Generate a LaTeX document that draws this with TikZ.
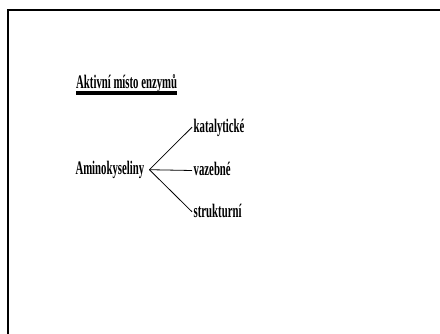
\documentclass[tikz,border=0pt]{standalone}
\usepackage{fontspec}
\setmainfont{Liberation Serif}[FakeStretch=0.56]
\usetikzlibrary{positioning}

\begin{document}
\begin{tikzpicture}[
  x=1pt, y=-1pt,
  every node/.style={font=\fontsize{19.2}{21}\selectfont\bfseries, inner sep=0pt, anchor=base west},
  headtext/.style={},
  roottext/.style={inner xsep=5pt},
  leaftext/.style={inner xsep=1.5pt, text height=11pt, text depth=0pt},
  branchline/.style={line width=0.8pt, black},
]
\useasboundingbox (0,0) rectangle (440,334);

% Slide frame
\draw[line width=2pt] (8,334) -- (8,10) -- (440,10);

% Heading
\node[headtext] (head) at (76,88.3) {Aktivní místo enzymů};
\draw[line width=4pt] ([yshift=-4.6pt]head.base west) -- ([yshift=-4.6pt]head.base east);

% Root
\node[roottext] (amino) at (70.3,174.3) {Aminokyseliny};

% Leaves
\node[leaftext] (kat) at (192,132.7) {katalytické};
\node[leaftext] (vaz) at (192,176) {vazebné};
\node[leaftext] (str) at (192,217.3) {strukturní};

% Branches
\draw[branchline] (amino.east) -- (kat.west);
\draw[branchline] (amino.east) -- (vaz.west);
\draw[branchline] (amino.east) -- (str.west);

\end{tikzpicture}
\end{document}
